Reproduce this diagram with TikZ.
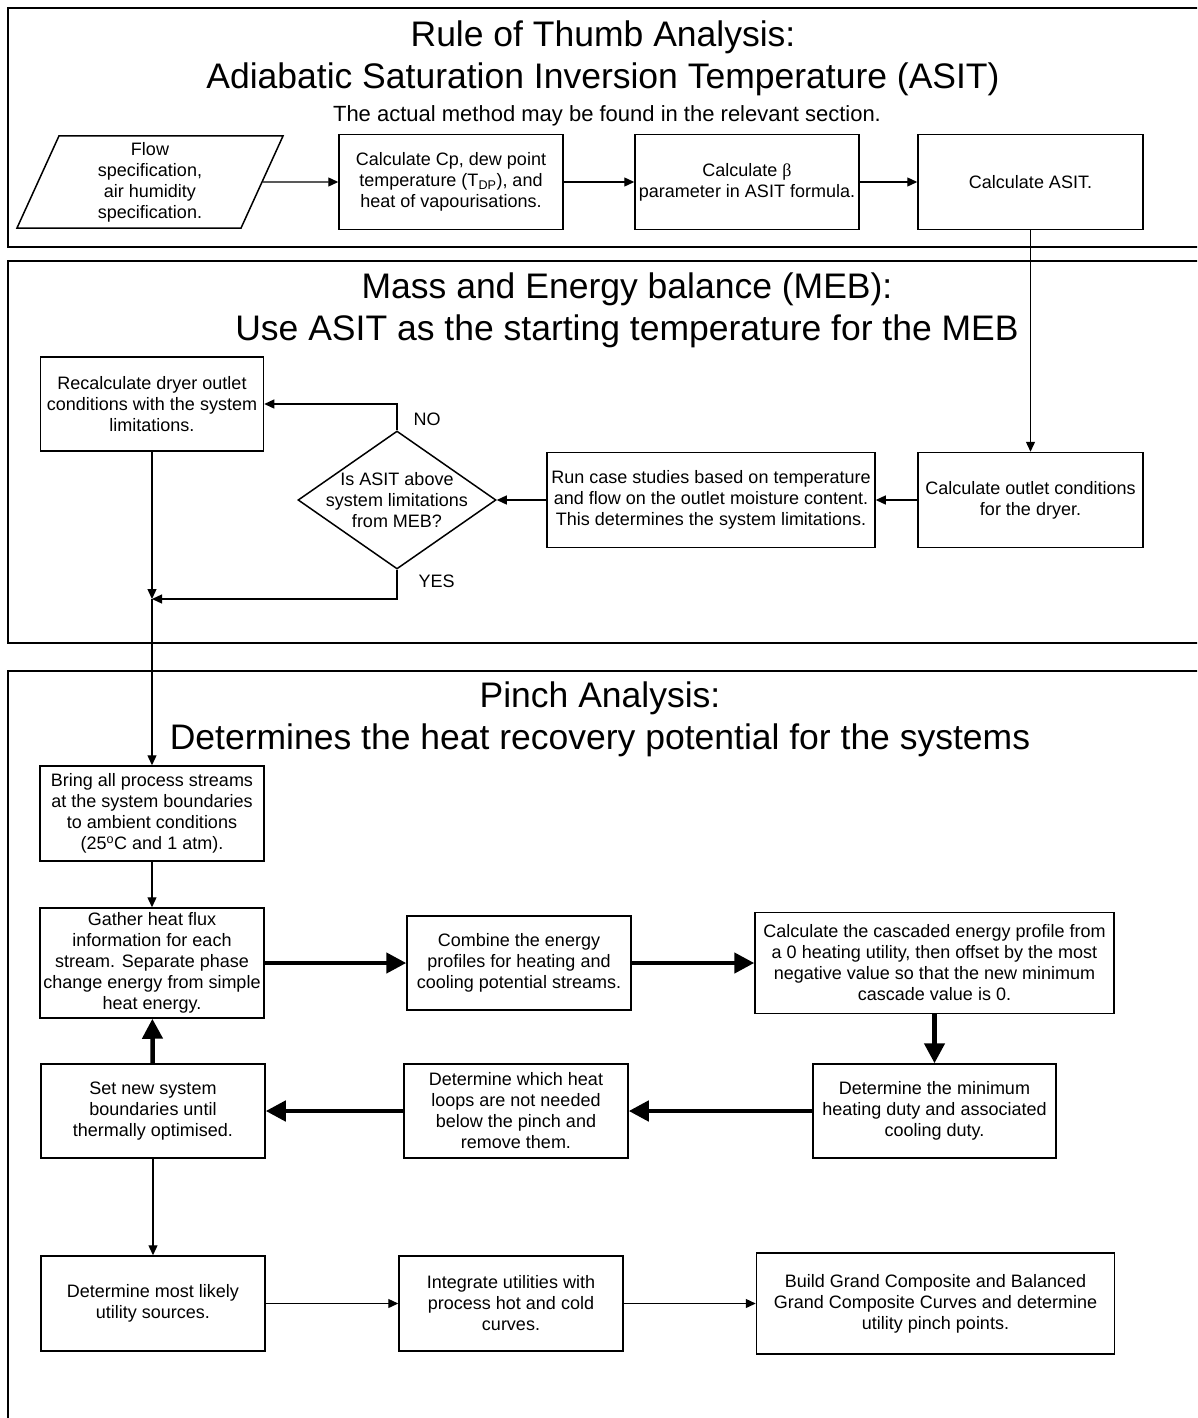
\documentclass[tikz,border=0pt]{standalone}
\usepackage{fontspec}
\setmainfont{Liberation Sans}
\newfontfamily\greekserif{Liberation Serif}
\usetikzlibrary{shapes.geometric, arrows.meta}
\tikzset{
>={Triangle[length=10pt,width=9pt]}, % small filled arrow heads
panel/.style={draw, line width=1.5pt}, % the three section frames
title/.style={align=center, font=\fontsize{35.5}{42}\selectfont}, % section headings
box/.style={draw, line width=1.5pt, minimum width=224pt, minimum height=95pt, inner sep=2pt, align=center, font=\fontsize{18}{21}\selectfont}, % process step
widebox/.style={box, minimum width=358pt, minimum height=101pt}, % wider process step
io/.style={box, trapezium, trapezium left angle=63.4, trapezium right angle=116.6, trapezium stretches body=true, minimum width=266pt, minimum height=92pt}, % input data
decision/.style={box, diamond, aspect=1.435, inner sep=-8pt, minimum width=198pt, minimum height=138pt}, % yes/no question
lbl/.style={inner sep=2pt, font=\fontsize{18}{21}\selectfont}, % branch labels
link/.style={->, line width=1.3pt}, % thin connector
heavylink/.style={line width=4.5pt, -{Triangle[length=20pt,width=20pt]}}, % heavy connector
}

\begin{document}
\begin{tikzpicture}[x=1pt, y=-1pt]
\useasboundingbox (0,0) rectangle (1197,1418);
\clip (0,0) rectangle (1197,1418);

% section frames, open on the right
\draw[panel] (8,8) rectangle (1230,247);
\draw[panel] (8,261) rectangle (1230,643);
\draw[panel] (8,671) rectangle (1230,1450);

% rule of thumb
\node[title] (asittitle) at (603,58.5) {Rule of Thumb Analysis:\\Adiabatic Saturation Inversion Temperature (ASIT)};
\node[anchor=base, font=\fontsize{22}{26}\selectfont] (method) at (607,122) {The actual method may be found in the relevant section.};
\node[io] (flow) at (150,182) {Flow\\specification,\\air humidity\\specification.};
\node[box, right of=flow, node distance=301pt] (cp) {Calculate Cp, dew point\\temperature (T\textsubscript{DP}), and\\heat of vapourisations.};
\node[box, right of=cp, node distance=296pt] (beta) {Calculate {\greekserif β}\\parameter in ASIT formula.};
\node[box, right of=beta, node distance=283.5pt, minimum width=225pt] (asit) {Calculate ASIT.};

% mass and energy balance
\node[title] (mebtitle) at (627,310) {Mass and Energy balance (MEB):\\Use ASIT as the starting temperature for the MEB};
\node[box, below of=asit, node distance=318pt, minimum width=225pt] (outlet) {Calculate outlet conditions\\for the dryer.};
\node[box, left of=outlet, node distance=319.5pt, minimum width=328pt] (runcase) {Run case studies based on temperature\\and flow on the outlet moisture content.\\This determines the system limitations.};
\node[decision, left of=runcase, node distance=314pt] (dia) {Is ASIT above\\system limitations\\from MEB?};
\node[box, minimum width=223pt, minimum height=94pt] (recalc) at (152,404) {Recalculate dryer outlet\\conditions with the system\\limitations.};
\coordinate (join) at (152,599);

% pinch analysis
\node[title] (pinchtitle) at (600,719) {Pinch Analysis:\\Determines the heat recovery potential for the systems};
\node[box] (bring) at (152,813.5) {Bring all process streams\\at the system boundaries\\to ambient conditions\\(25\textsuperscript{o}C and 1 atm).};
\node[box, below of=bring, node distance=149.5pt, minimum height=110pt] (gather) {Gather heat flux\\information for each\\stream. Separate phase\\change energy from simple\\heat energy.};
\node[box, right of=gather, node distance=367pt, minimum height=94pt] (combine) {Combine the energy\\profiles for heating and\\cooling potential streams.};
\node[widebox, right of=combine, node distance=415.5pt, minimum width=359pt] (cascade) {Calculate the cascaded energy profile from\\a 0 heating utility, then offset by the most\\negative value so that the new minimum\\cascade value is 0.};
\node[box, below of=cascade, node distance=148pt, minimum width=243pt, minimum height=94pt] (minduty) {Determine the minimum\\heating duty and associated\\cooling duty.};
\node[box, left of=minduty, node distance=418.5pt, minimum height=94pt] (loops) {Determine which heat\\loops are not needed\\below the pinch and\\remove them.};
\node[box, left of=loops, node distance=363pt, minimum height=94pt] (setnew) {Set new system\\boundaries until\\thermally optimised.};
\node[box, below of=setnew, node distance=192.5pt] (likely) {Determine most likely\\utility sources.};
\node[box, right of=likely, node distance=358pt] (integrate) {Integrate utilities with\\process hot and cold\\curves.};
\node[widebox, right of=integrate, node distance=424.5pt] (build) {Build Grand Composite and Balanced\\Grand Composite Curves and determine\\utility pinch points.};

\draw[link] (flow) -- (cp);
\draw[link] (cp) -- (beta);
\draw[link] (beta) -- (asit);
\draw[link] (asit) -- (outlet);
\draw[link] (outlet) -- (runcase);
\draw[link] (runcase) -- (dia);
\draw[link] (dia.north) |- node[lbl, pos=0.2, anchor=west, xshift=14pt] {NO} (recalc);
\draw[link] (dia.south) |- node[lbl, pos=0.2, anchor=west, xshift=19pt] {YES} (join);
\draw[link] (recalc) -- (join);
\draw[link] (join) -- (bring);
\draw[link] (bring) -- (gather);
\draw[heavylink] (gather) -- (combine);
\draw[heavylink] (combine) -- (cascade);
\draw[heavylink] (cascade.south) -- (cascade.south |- minduty.north);
\draw[heavylink] (minduty) -- (loops);
\draw[heavylink] (loops) -- (setnew);
\draw[heavylink] (setnew) -- (gather);
\draw[link] (setnew) -- (likely);
\draw[link] (likely) -- (integrate);
\draw[link] (integrate) -- (build);
\end{tikzpicture}
\end{document}
